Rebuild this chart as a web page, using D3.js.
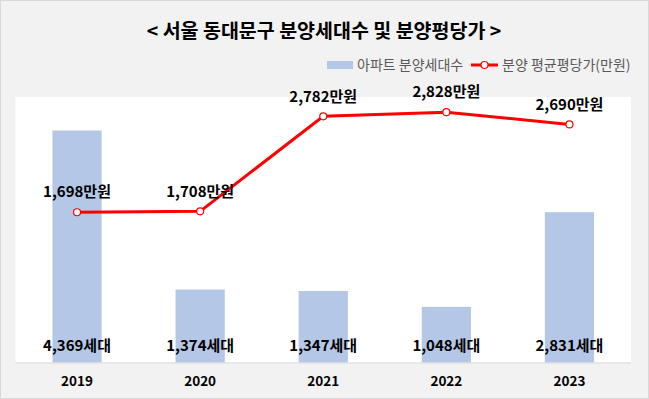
<!DOCTYPE html>
<html><head><meta charset="utf-8">
<script src="https://cdn.jsdelivr.net/npm/d3@7"></script>
<style>body{margin:0;background:#fff}svg{display:block}</style>
</head><body><svg id="c" width="649" height="399"></svg>
<script>
const years = ["2019","2020","2021","2022","2023"];
const units = [4369,1374,1347,1048,2831];
const prices = [1698,1708,2782,2828,2690];
const title = "< 서울 동대문구 분양세대수 및 분양평당가 >";
const legendBar = "아파트 분양세대수";
const legendLine = "분양 평균평당가(만원)";

const W=649,H=399;
const svg=d3.select("#c");
const font="'Noto Sans CJK KR','Noto Sans',sans-serif";
svg.append("rect").attr("x",0.5).attr("y",0.5).attr("width",W-1).attr("height",H-1)
  .attr("fill","#f2f2f2").attr("stroke","#d9d9d9");
const m={l:15.5,r:631,t:97,b:362.5};
svg.append("rect").attr("x",m.l).attr("y",m.t).attr("width",m.r-m.l).attr("height",m.b-m.t).attr("fill","#fff");

const x=d3.scaleBand().domain(years).range([m.l,m.r]).paddingInner(0.6).paddingOuter(0.3);
const yB=d3.scaleLinear().domain([0,5000]).range([m.b,m.t]);
const yL=d3.scaleLinear().domain([0,3000]).range([m.b,m.t]);

svg.selectAll(".bar").data(years).join("rect")
  .attr("x",d=>x(d)).attr("width",x.bandwidth())
  .attr("y",(d,i)=>yB(units[i])).attr("height",(d,i)=>m.b-yB(units[i]))
  .attr("fill","#b4c7e7");

const ax=svg.append("g").attr("transform",`translate(0,${m.b})`)
  .call(d3.axisBottom(x).tickSize(0).tickPadding(14));
ax.select(".domain").attr("stroke","#d9d9d9").attr("d",`M${m.l},0.5H${m.r}`);
ax.selectAll("text").attr("font-family",font).attr("font-size",13.5).attr("font-weight","bold").attr("fill","#000");

const cx=d=>x(d)+x.bandwidth()/2;
svg.selectAll(".bl").data(years).join("text")
  .attr("x",cx).attr("y",346).attr("dy","0.35em").attr("text-anchor","middle")
  .attr("font-family",font).attr("font-size",15).attr("font-weight","bold")
  .text((d,i)=>d3.format(",")(units[i])+"세대");

const line=d3.line().x(d=>cx(d)).y((d,i)=>yL(prices[i]));
svg.append("path").datum(years).attr("d",line).attr("fill","none").attr("stroke","#ff0000").attr("stroke-width",3);
svg.selectAll(".pt").data(years).join("circle")
  .attr("cx",cx).attr("cy",(d,i)=>yL(prices[i])).attr("r",3.5)
  .attr("fill","#fff").attr("stroke","#ff0000").attr("stroke-width",1.2);
svg.selectAll(".ll").data(years).join("text")
  .attr("x",cx).attr("y",(d,i)=>yL(prices[i])-20).attr("dy","0.35em").attr("text-anchor","middle")
  .attr("font-family",font).attr("font-size",15).attr("font-weight","bold")
  .text((d,i)=>d3.format(",")(prices[i])+"만원");

svg.append("text").attr("x",324).attr("y",31).attr("dy","0.35em").attr("text-anchor","middle")
  .attr("font-family",font).attr("font-size",19.5).attr("font-weight","bold").text(title);

const lg=svg.append("g").attr("font-family",font).attr("font-size",14).attr("fill","#595959");
lg.append("rect").attr("x",327).attr("y",61).attr("width",26).attr("height",8).attr("fill","#b4c7e7");
lg.append("text").attr("x",357).attr("y",65).attr("dy","0.35em").text(legendBar);
lg.append("line").attr("x1",471).attr("x2",498).attr("y1",65).attr("y2",65).attr("stroke","#ff0000").attr("stroke-width",3);
lg.append("circle").attr("cx",484.5).attr("cy",65).attr("r",3.5).attr("fill","#fff").attr("stroke","#ff0000").attr("stroke-width",1.2);
lg.append("text").attr("x",502).attr("y",65).attr("dy","0.35em").text(legendLine);
</script></body></html>
